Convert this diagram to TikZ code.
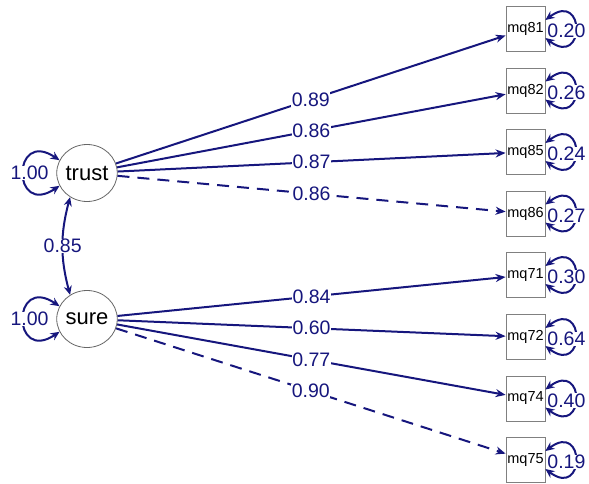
\documentclass[tikz,border=0pt]{standalone}
\usepackage{fontspec}
\setmainfont{Liberation Sans}
\usetikzlibrary{shapes.geometric,arrows.meta}
\definecolor{navy}{RGB}{22,22,125}
\begin{document}
\begin{tikzpicture}[x=1pt,y=-1pt,
 lat/.style={ellipse,draw=black!60,line width=0.8pt,minimum width=51pt,minimum height=57pt,inner sep=0pt,font=\fontsize{22}{22}\selectfont},
 man/.style={rectangle,draw=black!50,line width=0.8pt,minimum width=39pt,minimum height=45pt,inner sep=0pt,font=\fontsize{14.5}{14.5}\selectfont},
 load/.style={draw=navy,line width=2pt,-{Stealth[length=10pt,width=8pt]}},
 dsh/.style={dash pattern=on 12pt off 8pt},
 lbl/.style={fill=white,inner sep=0.5pt,text=navy,font=\fontsize{19.5}{19.5}\selectfont},
 var/.style={draw=navy,line width=2pt,{Stealth[length=9pt,width=8pt]}-{Stealth[length=9pt,width=8pt]}},
]
\useasboundingbox (0,0) rectangle (589,483);

\node[lat] (trust) at (87,173) {trust};
\node[lat] (sure) at (87,319) {sure};

\node[man] (m81) at (525.5,29) {mq81};
\node[man] (m82) at (525.5,90.5) {mq82};
\node[man] (m85) at (525.5,152) {mq85};
\node[man] (m86) at (525.5,213.5) {mq86};
\node[man] (m71) at (525.5,275) {mq71};
\node[man] (m72) at (525.5,337) {mq72};
\node[man] (m74) at (525.5,398.5) {mq74};
\node[man] (m75) at (525.5,460) {mq75};

\draw[load] (trust) -- (m81) node[lbl,pos=0.5]{0.89};
\draw[load] (trust) -- (m82) node[lbl,pos=0.5]{0.86};
\draw[load] (trust) -- (m85) node[lbl,pos=0.5]{0.87};
\draw[load,dsh] (trust) -- (m86) node[lbl,pos=0.5]{0.86};
\draw[load] (sure) -- (m71) node[lbl,pos=0.5]{0.84};
\draw[load] (sure) -- (m72) node[lbl,pos=0.5]{0.60};
\draw[load] (sure) -- (m74) node[lbl,pos=0.5]{0.77};
\draw[load,dsh] (sure) -- (m75) node[lbl,pos=0.5]{0.90};

\foreach \n/\v in {m81/0.20,m82/0.26,m85/0.24,m86/0.27,m71/0.30,m72/0.64,m74/0.40,m75/0.19}{
  \draw[var] ([yshift=9pt]\n.east) .. controls +(40,-30) and +(40,30) .. ([yshift=-9pt]\n.east)
    node[lbl,pos=0.5,xshift=-9pt,yshift=-2pt]{\v};
}

\draw[var] (trust.155) .. controls +(-48,-32) and +(-48,32) .. (trust.205) node[lbl,pos=0.5,xshift=6pt]{1.00};
\draw[var] (sure.155) .. controls +(-48,-32) and +(-48,32) .. (sure.205) node[lbl,pos=0.5,xshift=6pt]{1.00};

\draw[var] (trust.235) to[bend right=15] node[lbl]{0.85} (sure.125);
\end{tikzpicture}
\end{document}
